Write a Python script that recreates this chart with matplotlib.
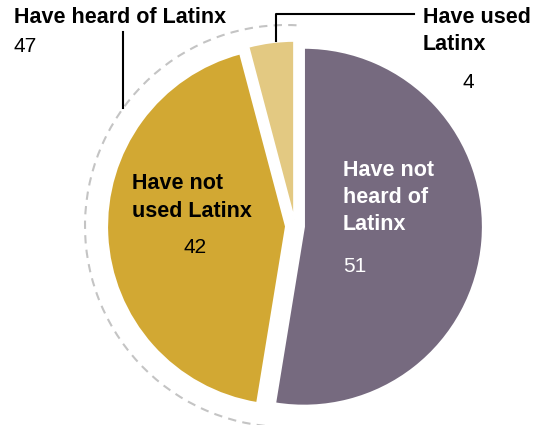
import matplotlib.pyplot as plt
from matplotlib.patches import Arc

labels = ["Have not heard of Latinx", "Have not used Latinx", "Have used Latinx"]
values = [51, 42, 4]
colors = ["#766a7f", "#d2a833", "#e3c982"]
explode = [0.05, 0.05, 0.035]
heard_total = 47

plt.rcParams['font.family'] = ['Liberation Sans', 'DejaVu Sans']

# pixel layout of the reference: pie centre and radius in px
cx, cy, s = 295, 226, 179
W, H = 537, 425

def px(x, y):
    return (x - cx) / s, (cy - y) / s

fig = plt.figure(figsize=(W / 100, H / 100), dpi=100)
ax = fig.add_axes([0, 0, 1, 1])
ax.axis('off')

ax.pie(values, colors=colors, explode=explode, startangle=90, counterclock=False,
       radius=1, wedgeprops=dict(edgecolor='white', linewidth=1.5))
ax.set_aspect('auto')
ax.set_xlim(-cx / s, (W - cx) / s)
ax.set_ylim(-(H - cy) / s, cy / s)

# dashed arc around the "heard of" share
arc = Arc(px(286, 226), 2 * 201 / s, 2 * 201 / s, theta1=87, theta2=268,
          color='#c4c4c4', lw=1.5, ls=(0, (4, 3)))
ax.add_patch(arc)

# leader lines
ax.plot(*zip(px(123, 32), px(123, 108)), color='black', lw=1.5)
ax.plot(*zip(px(276, 41), px(276, 14), px(414, 14)), color='black', lw=1.5)

bold = dict(fontsize=15.5, fontweight='bold')
num = dict(fontsize=15)
ax.text(*px(14, 18), "Have heard of Latinx", ha='left', va='center', **bold)
ax.text(*px(14, 46), str(heard_total), ha='left', va='center', **num)

ax.text(*px(423, 18), "Have used", ha='left', va='center', **bold)
ax.text(*px(423, 45), "Latinx", ha='left', va='center', **bold)
ax.text(*px(468, 83), str(values[2]), ha='center', va='center', **num)

ax.text(*px(343, 171), "Have not", ha='left', va='center', color='white', **bold)
ax.text(*px(343, 198), "heard of", ha='left', va='center', color='white', **bold)
ax.text(*px(343, 225), "Latinx", ha='left', va='center', color='white', **bold)
ax.text(*px(343, 266), str(values[0]), ha='left', va='center', color='white', **num)

ax.text(*px(132, 184), "Have not", ha='left', va='center', **bold)
ax.text(*px(132, 212), "used Latinx", ha='left', va='center', **bold)
ax.text(*px(195, 248), str(values[1]), ha='center', va='center', **num)

fig.savefig('out.png', dpi=100)
